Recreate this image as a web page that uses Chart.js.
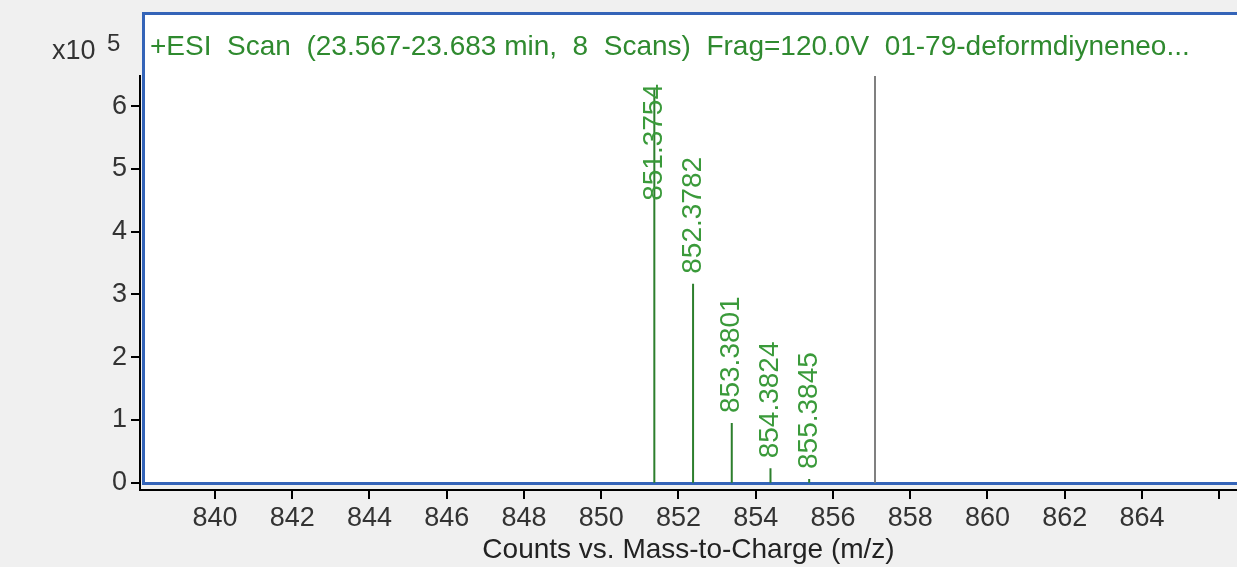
<!DOCTYPE html>
<html>
<head>
<meta charset="utf-8">
<script src="https://cdn.jsdelivr.net/npm/chart.js@4"></script>
<style>
  html, body { margin: 0; padding: 0; background: #f0f0f0; }
  #wrap { width: 1237px; height: 567px; }
</style>
</head>
<body>
<div id="wrap"><canvas id="chart" width="1237" height="567"></canvas></div>
<script>
// spectrum data (intensity in units of 10^5 counts)
const mzTicks = [840, 842, 844, 846, 848, 850, 852, 854, 856, 858, 860, 862, 864, 866];
const countTicks = [0, 1, 2, 3, 4, 5, 6];
const peakMz = [851.3754, 852.3782, 853.3801, 854.3824, 855.3845];
const peakCounts = [6.27, 3.17, 0.95, 0.23, 0.06];
const peakLabels = ['851.3754', '852.3782', '853.3801', '854.3824', '855.3845'];
const cursorMz = 857.1;
const scanTitle = '+ESI  Scan  (23.567-23.683 min,  8  Scans)  Frag=120.0V  01-79-deformdiyneneo...';
const axisTitle = 'Counts vs. Mass-to-Charge (m/z)';

const FONT = '"Liberation Sans", Arial, sans-serif';
const green = '#2f8a2f';

// each peak is a stick from 0 up to its height, broken by a null point
let sticks = [];
peakMz.forEach((mz, i) => {
  sticks.push({ x: mz, y: 0 });
  sticks.push({ x: mz, y: peakCounts[i] });
  sticks.push({ x: mz, y: null });
});

const framePlugin = {
  id: 'frame',
  beforeDraw(chart) {
    const c = chart.ctx;
    c.save();
    c.fillStyle = '#f0f0f0';
    c.fillRect(0, 0, chart.width, chart.height);
    c.fillStyle = '#ffffff';
    c.fillRect(142, 13, chart.width, 471);
    c.strokeStyle = '#3464b8';
    c.lineWidth = 3;
    c.strokeRect(143.5, 13.5, chart.width, 470);
    c.restore();
  },
  afterDatasetsDraw(chart) {
    const c = chart.ctx;
    const xs = chart.scales.x, ys = chart.scales.y;
    c.save();
    // cursor line
    c.strokeStyle = '#808080';
    c.lineWidth = 2;
    const cx = Math.round(xs.getPixelForValue(cursorMz));
    c.beginPath();
    c.moveTo(cx, chart.chartArea.top);
    c.lineTo(cx, ys.getPixelForValue(0));
    c.stroke();
    // peak labels, rotated
    c.font = '28px ' + FONT;
    c.fillStyle = '#3a9a3a';
    c.textBaseline = 'middle';
    c.textAlign = 'left';
    peakMz.forEach((mz, i) => {
      const px = xs.getPixelForValue(mz);
      const top = ys.getPixelForValue(peakCounts[i]);
      const w = c.measureText(peakLabels[i]).width;
      let start = top - 10;
      if (start - w < 84) start = 84 + w;
      c.save();
      c.translate(px, start);
      c.rotate(-Math.PI / 2);
      c.fillText(peakLabels[i], 0, 0);
      c.restore();
    });
    c.restore();
  },
  afterDraw(chart) {
    const c = chart.ctx;
    c.save();
    c.textBaseline = 'middle';
    c.fillStyle = green;
    c.font = '28px ' + FONT;
    c.textAlign = 'left';
    c.fillText(scanTitle, 150, 47);
    c.fillStyle = '#333';
    c.font = '27px ' + FONT;
    c.fillText('x10', 52, 52);
    c.font = '24px ' + FONT;
    c.fillText('5', 107, 44);
    c.restore();
  }
};

const ctx = document.getElementById('chart').getContext('2d');
const chart = new Chart(ctx, {
  type: 'line',
  data: {
    datasets: [{
      data: sticks,
      borderColor: '#2d7f2d',
      borderWidth: 2,
      pointRadius: 0,
      spanGaps: false,
      tension: 0
    }]
  },
  options: {
    responsive: false,
    animation: false,
    events: [],
    layout: { padding: { top: 76, right: 0, left: 0, bottom: 0 } },
    plugins: { legend: { display: false }, tooltip: { enabled: false } },
    scales: {
      x: {
        type: 'linear',
        min: 838.06,
        max: 866.46,
        afterBuildTicks: s => { s.ticks = mzTicks.map(v => ({ value: v })); },
        afterFit: s => { s.height = 77; },
        ticks: {
          callback: v => (v === 866 ? '' : String(v)),
          autoSkip: false, maxRotation: 0,
          color: '#333', padding: 3,
          font: { family: FONT, size: 27 }
        },
        grid: { drawOnChartArea: false, tickLength: 9, color: '#000', lineWidth: 2 },
        border: { color: '#000', width: 2 },
        title: {
          display: true, text: axisTitle, color: '#222',
          font: { family: FONT, size: 28 }, padding: { top: 0, bottom: 0 }
        }
      },
      y: {
        min: -0.116,
        max: 6.48,
        afterBuildTicks: s => { s.ticks = countTicks.map(v => ({ value: v })); },
        afterFit: s => { s.width = 140; },
        ticks: {
          color: '#333', padding: 4,
          font: { family: FONT, size: 27 }
        },
        grid: { drawOnChartArea: false, tickLength: 9, color: '#000', lineWidth: 2 },
        border: { color: '#000', width: 2 }
      }
    }
  },
  plugins: [framePlugin]
});
</script>
</body>
</html>
